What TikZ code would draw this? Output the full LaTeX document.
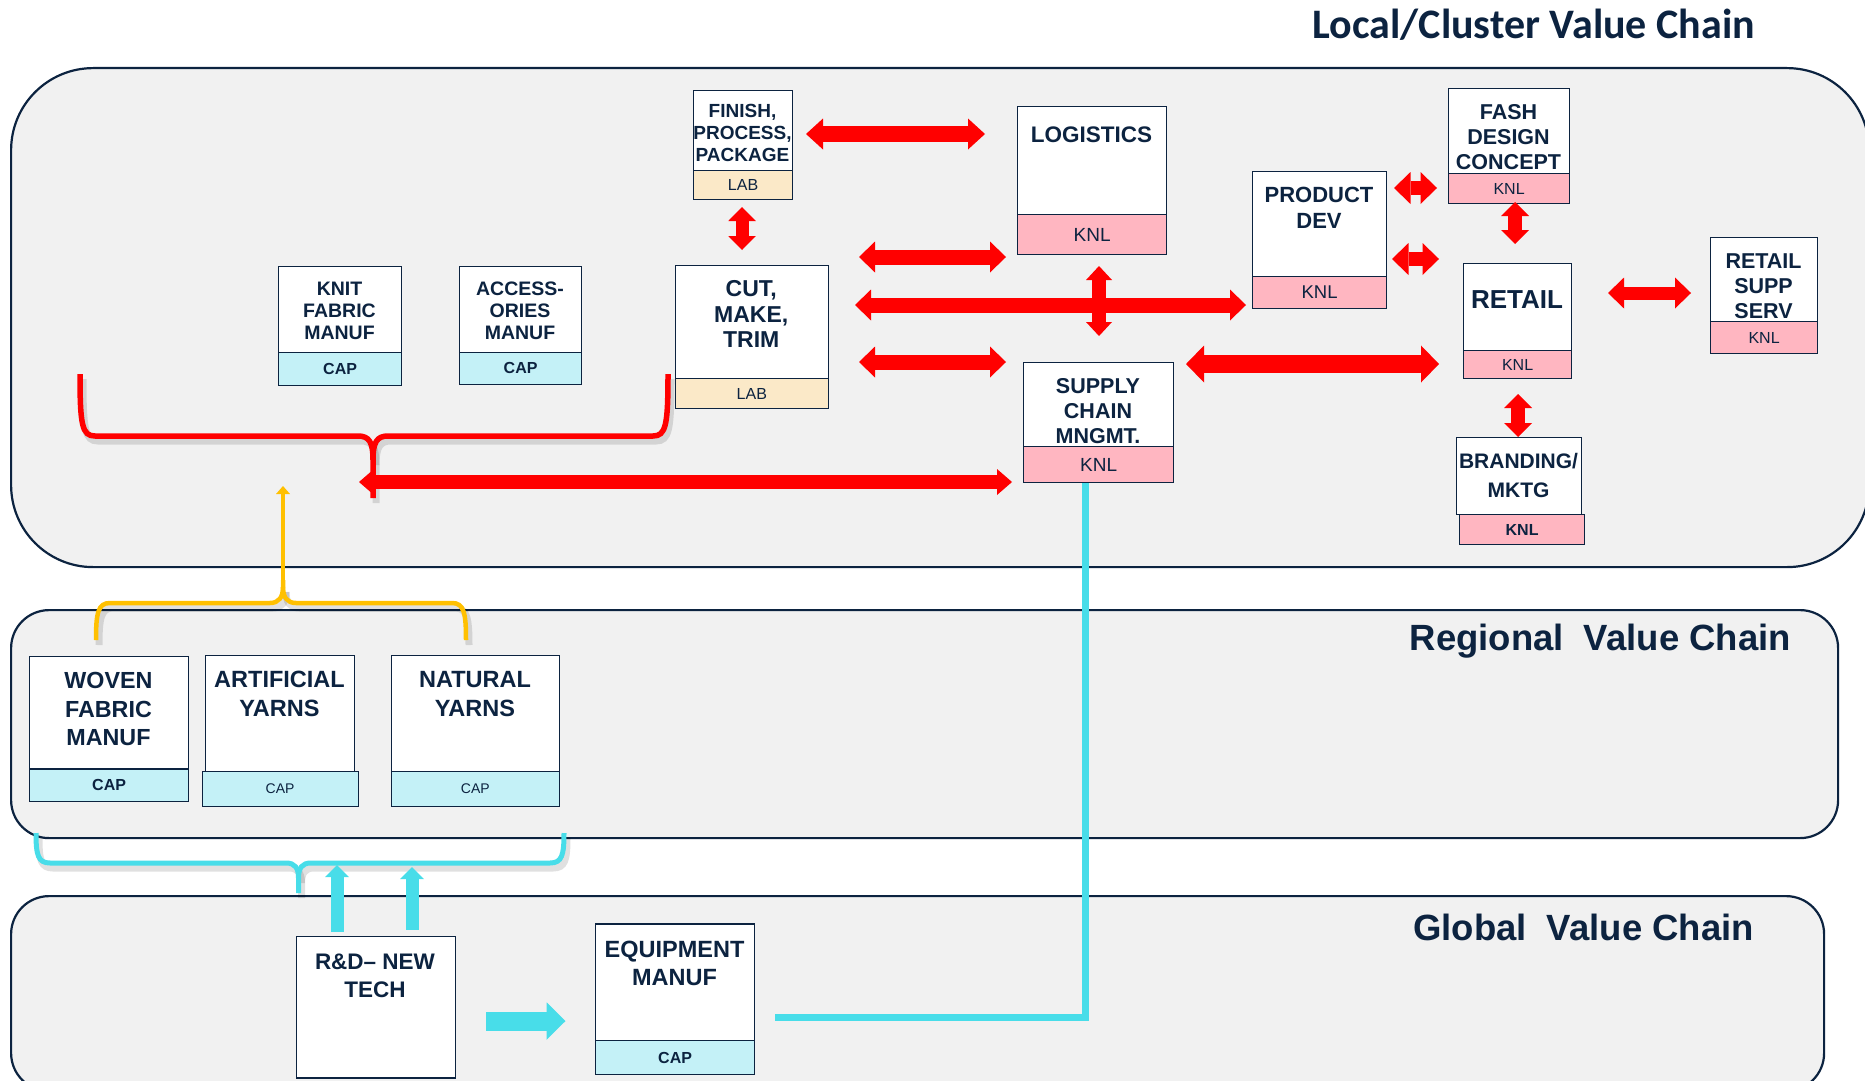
\documentclass[tikz,border=0pt]{standalone}
\usepackage{fontspec}
\setmainfont{Liberation Sans}
\newfontfamily\titlefont{Carlito}
\usetikzlibrary{arrows.meta,calc}

\definecolor{navy}{HTML}{0C2340}
\definecolor{panelfill}{HTML}{F1F1F1}
\definecolor{knlpink}{HTML}{FFB6C1}
\definecolor{labbeige}{HTML}{FBE9C8}
\definecolor{capcyan}{HTML}{C4F1F7}
\definecolor{cyanline}{HTML}{48DDE9}
\definecolor{goldline}{HTML}{FFC000}
\definecolor{redarrow}{HTML}{FF0000}

\newcommand\bfs[2]{\fontsize{#1}{#2}\selectfont\bfseries}
\newcommand\rfs[1]{\fontsize{#1}{#1}\selectfont}

\begin{document}
\begin{tikzpicture}[x=1pt,y=-1pt,
  panel/.style={draw=navy, line width=2.2pt, fill=panelfill, anchor=north west, inner sep=0pt},
  wbox/.style={draw=navy, line width=1.2pt, fill=white, anchor=north west, inner sep=0pt},
  subbox/.style={draw=navy, line width=1.2pt, anchor=north west, inner sep=0pt, text=navy},
  knlbox/.style={subbox, fill=knlpink},
  labbox/.style={subbox, fill=labbeige},
  capbox/.style={subbox, fill=capcyan},
  btxt/.style={text=navy, align=center, inner sep=0pt},
  title/.style={text=navy, anchor=base east, inner sep=0pt},
  rdbl/.style n args={3}{draw=redarrow, line width=#1pt,
    arrows={Triangle[width=#2pt,length=#3pt,line width=0pt]-Triangle[width=#2pt,length=#3pt,line width=0pt]}},
  cyarr/.style n args={3}{draw=cyanline, line width=#1pt,
    arrows={-Triangle[width=#2pt,length=#3pt,line width=0pt]}},
  redbrace/.style={draw=redarrow, line width=5.5pt},
  ybrace/.style={draw=goldline, line width=4.5pt},
  cbrace/.style={draw=cyanline, line width=5pt},
  braceshadow/.style={draw=black, opacity=0.12, line width=7pt},
]
\useasboundingbox (0,0) rectangle (1865,1081);
\clip (0,0) rectangle (1865,1081);

% ---------- the three value-chain panels ----------
\node[panel, rounded corners=38pt, minimum width=1813pt, minimum height=195pt] (globalpanel) at (10,895) {};
\node[panel, rounded corners=38pt, minimum width=1827pt, minimum height=228pt] (regionalpanel) at (10,609) {};
\node[panel, rounded corners=82pt, minimum width=1858pt, minimum height=499pt] (localpanel) at (10,67) {};

% ---------- titles ----------
\node[title, font=\titlefont\bfseries\fontsize{42}{42}\selectfont] (t-local) at (1755,39) {Local/Cluster Value Chain};
\node[title, font=\bfseries\fontsize{36.5}{37}\selectfont] (t-regional) at (1791,650) {Regional\hspace{0.55em}Value Chain};
\node[title, font=\bfseries\fontsize{36.5}{37}\selectfont] (t-global) at (1754,940) {Global\hspace{0.55em}Value Chain};

% ---------- cyan link from equipment to supply chain ----------
\draw[draw=cyanline, line width=7pt, line join=miter] (775,1017) -- (1085,1017) -- (1085,482);

% ---------- local boxes ----------
\node[wbox, minimum width=99pt, minimum height=80pt] (finish) at (693,89.5) {};
\node[btxt, font=\bfs{19}{22}] (finish-t) at (742.5,133) {FINISH,\\PROCESS,\\PACKAGE};
\node[labbox, minimum width=99pt, minimum height=29.5pt, font=\rfs{16}] (finish-lab) at (693,169.5) {LAB};

\node[wbox, minimum width=123pt, minimum height=85.5pt] (knit) at (278,266) {};
\node[btxt, font=\bfs{19.5}{22.2}] (knit-t) at (339.5,310.8) {KNIT\\FABRIC\\MANUF};
\node[capbox, minimum width=123pt, minimum height=33.5pt, font=\bfs{16}{16}] (knit-cap) at (278,351.5) {CAP};

\node[wbox, minimum width=122pt, minimum height=85.5pt] (access) at (459,266) {};
\node[btxt, font=\bfs{19.5}{22.2}] (access-t) at (520,310.8) {ACCESS-\\ORIES\\MANUF};
\node[capbox, minimum width=122pt, minimum height=32.5pt, font=\bfs{16}{16}] (access-cap) at (459,351.5) {CAP};

\node[wbox, minimum width=153.5pt, minimum height=113pt] (cut) at (674.5,265) {};
\node[btxt, font=\bfs{23}{25.5}] (cut-t) at (751.25,314) {CUT,\\MAKE,\\TRIM};
\node[labbox, minimum width=153.5pt, minimum height=30pt, font=\rfs{16}] (cut-lab) at (674.5,378) {LAB};

\node[wbox, minimum width=149pt, minimum height=108pt] (logistics) at (1017,106) {};
\node[btxt, font=\bfs{22.5}{26}] (logistics-t) at (1091.5,135) {LOGISTICS};
\node[knlbox, minimum width=149pt, minimum height=40pt, font=\rfs{19}] (logistics-knl) at (1017,214) {KNL};

\node[wbox, minimum width=134pt, minimum height=105pt] (product) at (1252,171) {};
\node[btxt, font=\bfs{22}{26}] (product-t) at (1319,208) {PRODUCT\\DEV};
\node[knlbox, minimum width=134pt, minimum height=32pt, font=\rfs{18.5}] (product-knl) at (1252,276) {KNL};

\node[wbox, minimum width=121pt, minimum height=85pt] (fash) at (1448,88) {};
\node[btxt, font=\bfs{21.5}{25}] (fash-t) at (1508.5,137) {FASH\\DESIGN\\CONCEPT};
\node[knlbox, minimum width=121pt, minimum height=30pt, font=\rfs{16}] (fash-knl) at (1448,173) {KNL};

\node[wbox, minimum width=108pt, minimum height=87pt] (retail) at (1463,263) {};
\node[btxt, font=\bfs{26}{30}] (retail-t) at (1517,300) {RETAIL};
\node[knlbox, minimum width=108pt, minimum height=28pt, font=\rfs{16}] (retail-knl) at (1463,350) {KNL};

\node[wbox, minimum width=107pt, minimum height=84pt] (retsupp) at (1710,237) {};
\node[btxt, font=\bfs{21.5}{25}] (retsupp-t) at (1763.5,286) {RETAIL\\SUPP\\SERV};
\node[knlbox, minimum width=107pt, minimum height=32pt, font=\rfs{16}] (retsupp-knl) at (1710,321) {KNL};

\node[wbox, minimum width=150pt, minimum height=84pt] (supply) at (1023,362) {};
\node[btxt, font=\bfs{21.5}{25}] (supply-t) at (1098,411) {SUPPLY\\CHAIN\\MNGMT.};
\node[knlbox, minimum width=150pt, minimum height=36pt, font=\rfs{19}] (supply-knl) at (1023,446) {KNL};

\node[wbox, minimum width=125pt, minimum height=77pt] (branding) at (1456,437) {};
\node[btxt, font=\bfs{21}{29}] (branding-t) at (1518.5,475.5) {BRANDING/\\MKTG};
\node[knlbox, minimum width=125pt, minimum height=30pt, font=\bfs{16}{16}] (branding-knl) at (1459,514) {KNL};

% ---------- regional boxes ----------
\node[wbox, minimum width=159pt, minimum height=112.6pt] (woven) at (29,655.7) {};
\node[btxt, font=\bfs{23.3}{28.8}] (woven-t) at (108.5,709) {WOVEN\\FABRIC\\MANUF};
\node[capbox, minimum width=159pt, minimum height=32.4pt, font=\bfs{16}{16}] (woven-cap) at (29,768.3) {CAP};

\node[wbox, minimum width=149pt, minimum height=116pt] (artificial) at (205,654.7) {};
\node[btxt, font=\bfs{23.5}{29}] (artificial-t) at (279.5,693.8) {ARTIFICIAL\\YARNS};
\node[capbox, minimum width=156pt, minimum height=35pt, font=\rfs{14}] (artificial-cap) at (201.5,770.7) {CAP};

\node[wbox, minimum width=167.5pt, minimum height=116pt] (natural) at (391,654.7) {};
\node[btxt, font=\bfs{23.5}{29}] (natural-t) at (475,693.8) {NATURAL\\YARNS};
\node[capbox, minimum width=167.5pt, minimum height=35pt, font=\rfs{14}] (natural-cap) at (391,770.7) {CAP};

% ---------- global boxes ----------
\node[wbox, minimum width=159.4pt, minimum height=141.3pt] (rnd) at (295.6,936) {};
\node[btxt, font=\bfs{22.5}{28.3}] (rnd-t) at (375,975.8) {R\&D– NEW\\TECH};

\node[wbox, minimum width=159pt, minimum height=116.7pt] (equip) at (595,923.3) {};
\node[btxt, font=\bfs{23.5}{28}] (equip-t) at (674.5,963.3) {EQUIPMENT\\MANUF};
\node[capbox, minimum width=159pt, minimum height=34pt, font=\bfs{16}{16}] (equip-cap) at (595,1040) {CAP};

% ---------- braces ----------
\begin{scope}[shift={(3,5)}]
  \draw[braceshadow] (80,374) .. controls (80,425) and (82,436) .. (95,436) -- (358,436) .. controls (369,436) and (373,442) .. (373,460) -- (373,498);
  \draw[braceshadow] (668,374) .. controls (668,425) and (666,436) .. (653,436) -- (388,436) .. controls (377,436) and (373,442) .. (373,460);
  \draw[braceshadow] (96,640) .. controls (96,613) and (98,603) .. (110,603) -- (270,603) .. controls (279,603) and (283,597) .. (283,587);
  \draw[braceshadow] (466,640) .. controls (466,613) and (464,603) .. (452,603) -- (296,603) .. controls (287,603) and (283,597) .. (283,587);
  \draw[braceshadow] (36,833) .. controls (36,855) and (38,863) .. (50,863) -- (286,863) .. controls (295,863) and (298.5,868) .. (298.5,878) -- (298.5,893);
  \draw[braceshadow] (564,833) .. controls (564,855) and (562,863) .. (550,863) -- (311,863) .. controls (302,863) and (298.5,868) .. (298.5,878);
\end{scope}

% red brace gathering the local suppliers
\draw[redbrace] (80,374) .. controls (80,425) and (82,436) .. (95,436) -- (358,436) .. controls (369,436) and (373,442) .. (373,460) -- (373,498);
\draw[redbrace] (668,374) .. controls (668,425) and (666,436) .. (653,436) -- (388,436) .. controls (377,436) and (373,442) .. (373,460);
\coordinate (redtip) at (359,482);

% yellow brace over the regional suppliers
\draw[ybrace] (96,640) .. controls (96,613) and (98,603) .. (110,603) -- (270,603) .. controls (279,603) and (283,597) .. (283,587) -- (283,580);
\draw[ybrace] (466,640) .. controls (466,613) and (464,603) .. (452,603) -- (296,603) .. controls (287,603) and (283,597) .. (283,587);
\coordinate (ytip) at (283,580);
\coordinate (yhead) at (283,486);
\draw[draw=goldline, line width=4pt, arrows={-Triangle[width=14pt,length=8pt,line width=0pt]}] (ytip) -- (yhead);

% cyan brace under the regional suppliers
\draw[cbrace] (36,833) .. controls (36,855) and (38,863) .. (50,863) -- (286,863) .. controls (295,863) and (298.5,868) .. (298.5,878) -- (298.5,893);
\draw[cbrace] (564,833) .. controls (564,855) and (562,863) .. (550,863) -- (311,863) .. controls (302,863) and (298.5,868) .. (298.5,878);

% ---------- red double arrows ----------
\coordinate (fl-a) at (806,134);   \coordinate (fl-b) at (985,134);
\coordinate (fc-a) at (742,207);   \coordinate (fc-b) at (742,250);
\coordinate (c1-a) at (859,257);   \coordinate (c1-b) at (1006,257);
\coordinate (cp-a) at (855,305);   \coordinate (cp-b) at (1246,305);
\coordinate (c3-a) at (859,362);   \coordinate (c3-b) at (1006,362);
\coordinate (ls-a) at (1099,266);  \coordinate (ls-b) at (1099,336);
\coordinate (bs-b) at (1012,482);
\coordinate (sr-a) at (1186,364);  \coordinate (sr-b) at (1439,364);
\coordinate (pf-a) at (1394,188);  \coordinate (pf-b) at (1437,188);
\coordinate (pr-a) at (1392,259);  \coordinate (pr-b) at (1439,259);
\coordinate (fr-a) at (1515,202);  \coordinate (fr-b) at (1515,244);
\coordinate (rs-a) at (1608,293);  \coordinate (rs-b) at (1691,293);
\coordinate (rb-a) at (1518,394);  \coordinate (rb-b) at (1518,437);

\draw[rdbl={16}{31}{17}] (fl-a) -- (fl-b);
\draw[rdbl={13}{27.5}{14}] (fc-a) -- (fc-b);
\draw[rdbl={15}{31}{16}] (c1-a) -- (c1-b);
\draw[rdbl={15}{31}{16}] (cp-a) -- (cp-b);
\draw[rdbl={15}{31}{16}] (c3-a) -- (c3-b);
\draw[rdbl={13.5}{26}{14}] (ls-a) -- (ls-b);
\draw[rdbl={14}{26}{15}] (redtip) -- (bs-b);
\draw[rdbl={18.5}{37}{18}] (sr-a) -- (sr-b);
\draw[rdbl={14}{32}{16.5}] (pf-a) -- (pf-b);
\draw[rdbl={14}{32}{16.5}] (pr-a) -- (pr-b);
\draw[rdbl={14}{28}{14}] (fr-a) -- (fr-b);
\draw[rdbl={13}{31}{16}] (rs-a) -- (rs-b);
\draw[rdbl={14}{28}{14}] (rb-a) -- (rb-b);

% ---------- cyan arrows from R&D ----------
\coordinate (up1) at (337,865);
\coordinate (up2) at (412,867);
\draw[cyarr={13}{24}{12}] ([yshift=4pt]rnd.north -| up1) -- (up1);
\draw[cyarr={13}{24}{12}] ([yshift=6.5pt]rnd.north -| up2) -- (up2);
\coordinate (re-a) at (486,1021);  \coordinate (re-b) at (565.5,1021);
\draw[cyarr={19}{37.5}{19}] (re-a) -- (re-b);
\end{tikzpicture}
\end{document}
